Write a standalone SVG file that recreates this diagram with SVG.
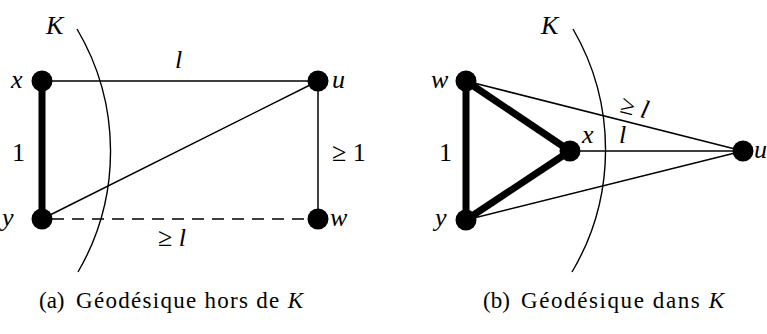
<svg xmlns="http://www.w3.org/2000/svg" width="767" height="334" viewBox="0 0 767 334">
<style>
.thin{stroke:#000;stroke-width:1.5;fill:none}
.thick{stroke:#000;stroke-width:7;fill:none;stroke-linecap:round}
.dash{stroke:#000;stroke-width:1.5;fill:none;stroke-dasharray:12 8}
.arc{stroke:#000;stroke-width:1.4;fill:none}
.node{fill:#000}
text{font-family:"Liberation Serif","DejaVu Serif","Times New Roman",serif;fill:#000}
.lab{font-style:italic;font-size:26px}
.num{font-size:26px}
.cap{font-size:23px}
</style>
<g id="connectors">
<path class="arc" d="M77 29 A240 240 0 0 1 78 272"/>
<line class="thin" x1="42" y1="81" x2="318" y2="81"/>
<line class="thin" x1="318" y1="81" x2="318" y2="219"/>
<line class="thin" x1="42" y1="219" x2="318" y2="81"/>
<line class="dash" x1="52" y1="219" x2="318" y2="219"/>
<line class="thick" x1="42" y1="81" x2="42" y2="219"/>
<path class="arc" d="M573 29 A240 240 0 0 1 572 272"/>
<line class="thin" x1="466" y1="81" x2="743" y2="151"/>
<line class="thin" x1="570" y1="151" x2="743" y2="151"/>
<line class="thin" x1="466" y1="220" x2="743" y2="151"/>
<line class="thick" x1="466" y1="81" x2="466" y2="220"/>
<line class="thick" x1="466" y1="81" x2="570" y2="151"/>
<line class="thick" x1="466" y1="220" x2="570" y2="151"/>
</g>
<g id="a-x"><circle class="node" cx="42" cy="81" r="10.5"/><text class="lab" x="11" y="88">x</text></g>
<g id="a-u"><circle class="node" cx="318" cy="81" r="10.5"/><text class="lab" x="332" y="88">u</text></g>
<g id="a-y"><circle class="node" cx="42" cy="219" r="10.5"/><text class="lab" x="2" y="226">y</text></g>
<g id="a-w"><circle class="node" cx="318" cy="219" r="10.5"/><text class="lab" x="330" y="226">w</text></g>
<g id="a-labels">
<text class="lab" x="46" y="34">K</text>
<text class="lab" x="175" y="68">l</text>
<text class="num" x="12" y="161">1</text>
<text class="num" x="332" y="161">≥ 1</text>
<text class="num" x="158" y="246">≥ <tspan font-style="italic">l</tspan></text>
</g>
<g id="b-w"><circle class="node" cx="466" cy="81" r="10.5"/><text class="lab" x="431" y="88">w</text></g>
<g id="b-y"><circle class="node" cx="466" cy="220" r="10.5"/><text class="lab" x="435" y="226">y</text></g>
<g id="b-x"><circle class="node" cx="570" cy="151" r="10.5"/><text class="lab" x="582" y="143">x</text></g>
<g id="b-u"><circle class="node" cx="743" cy="151" r="10.5"/><text class="lab" x="754" y="158">u</text></g>
<g id="b-labels">
<text class="lab" x="541" y="34">K</text>
<text class="num" x="439" y="161">1</text>
<text class="num" transform="translate(619 112) rotate(14)">≥ <tspan font-style="italic">l</tspan></text>
<text class="lab" x="619" y="143">l</text>
</g>
<g id="captions">
<text class="cap" x="39" y="308">(a)</text>
<text class="cap" x="76" y="308" textLength="227" lengthAdjust="spacing">Géodésique hors de <tspan font-style="italic">K</tspan></text>
<text class="cap" x="483" y="308">(b)</text>
<text class="cap" x="521" y="308" textLength="203" lengthAdjust="spacing">Géodésique dans <tspan font-style="italic">K</tspan></text>
</g>
</svg>
